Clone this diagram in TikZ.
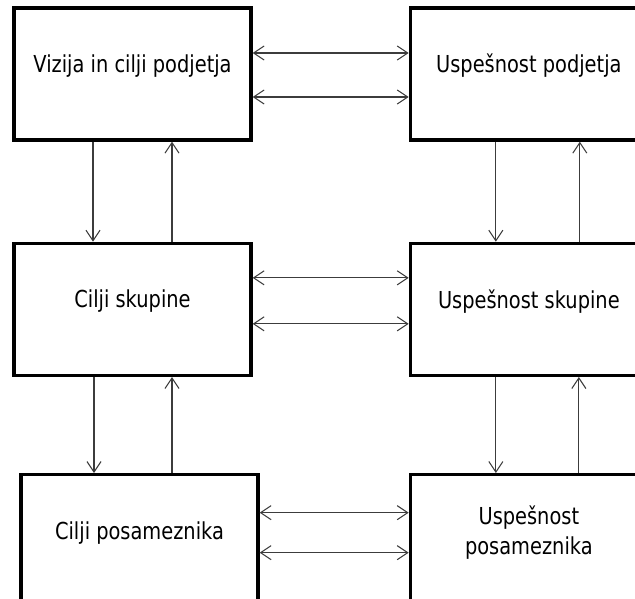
\documentclass[tikz,border=0pt]{standalone}
\usepackage{fontspec}
\setmainfont{DejaVu Sans}[FakeStretch=0.83]
\usepackage{tikz}
\usetikzlibrary{arrows.meta, positioning}
\definecolor{linegray}{RGB}{60,60,60}
\tikzset{
  block/.style={
    rectangle, draw=black, line width=1.9pt, fill=white,
    minimum width=4.74cm, minimum height=2.64cm,
    align=center, text depth=12pt, inner sep=2pt,
    font=\fontsize{13.3}{17}\selectfont
  },
  twoarrow/.style={{Straight Barb[length=6pt, width=8pt]}-{Straight Barb[length=6pt, width=8pt]}, line width=0.6pt, color=linegray},
  arrow/.style={-{Straight Barb[length=6pt, width=8pt]}, line width=0.6pt, color=linegray}
}
\begin{document}
\begin{tikzpicture}[node distance=2.0cm and 3.12cm]

  \useasboundingbox (0,0) rectangle (12.7,-11.98);
  \clip (0,0) rectangle (12.7,-11.98);

  % Column 1 (goals)
  \node[block] (vision) at (2.65,-1.48) {Vizija in cilji podjetja};
  \node[block, below=of vision] (groupgoal) {Cilji skupine};
  \node[block, below=1.92cm of groupgoal, xshift=0.14cm] (indgoal) {Cilji posameznika};

  % Column 2 (success)
  \node[block, right=of vision] (firmsucc) {Uspešnost podjetja};
  \node[block, below=of firmsucc] (groupsucc) {Uspešnost skupine};
  \node[block, below=1.92cm of groupsucc] (indsucc) {Uspešnost\\posameznika};

  % Arrows — between columns
  \draw[twoarrow] ([yshift=0.42cm]vision.east) -- ([yshift=0.42cm]firmsucc.west);
  \draw[twoarrow] ([yshift=-0.46cm]vision.east) -- ([yshift=-0.46cm]firmsucc.west);
  \draw[twoarrow] ([yshift=0.63cm]groupgoal.east) -- ([yshift=0.63cm]groupsucc.west);
  \draw[twoarrow] ([yshift=-0.29cm]groupgoal.east) -- ([yshift=-0.29cm]groupsucc.west);
  \draw[twoarrow] ([yshift=0.56cm]indgoal.east) -- ([yshift=0.56cm]indsucc.west);
  \draw[twoarrow] ([yshift=-0.24cm]indgoal.east) -- ([yshift=-0.24cm]indsucc.west);

  % Arrows — down and up, column 1
  \draw[arrow] ([xshift=-0.79cm]vision.south) -- ([xshift=-0.79cm]groupgoal.north);
  \draw[arrow] ([xshift=0.79cm]groupgoal.north) -- ([xshift=0.79cm]vision.south);
  \draw[arrow] ([xshift=-0.77cm]groupgoal.south) -- ([xshift=-0.91cm]indgoal.north);
  \draw[arrow] ([xshift=0.65cm]indgoal.north) -- ([xshift=0.79cm]groupgoal.south);

  % Arrows — down and up, column 2
  \draw[arrow] ([xshift=-0.66cm]firmsucc.south) -- ([xshift=-0.66cm]groupsucc.north);
  \draw[arrow] ([xshift=1.02cm]groupsucc.north) -- ([xshift=1.02cm]firmsucc.south);
  \draw[arrow] ([xshift=-0.66cm]groupsucc.south) -- ([xshift=-0.66cm]indsucc.north);
  \draw[arrow] ([xshift=1.0cm]indsucc.north) -- ([xshift=1.0cm]groupsucc.south);

\end{tikzpicture}
\end{document}
